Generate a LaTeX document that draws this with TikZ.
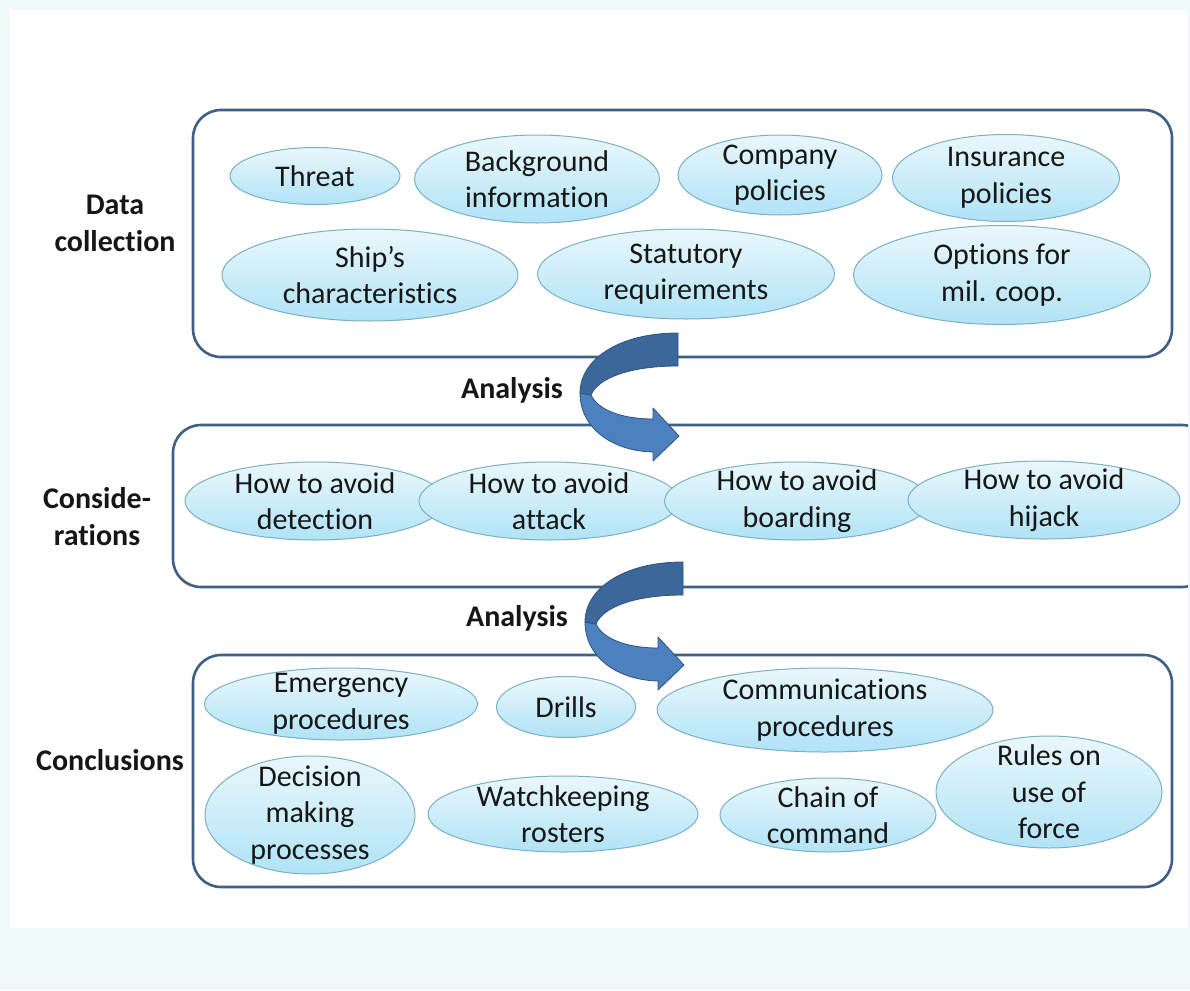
\documentclass[tikz,border=0pt]{standalone}
\usepackage{fontspec}
\setmainfont{Carlito}[Ligatures={NoCommon}]
\usetikzlibrary{shapes.geometric}
\definecolor{bgc}{HTML}{EEF9FA}
\definecolor{boxc}{HTML}{3F5F85}
\definecolor{ellc}{HTML}{7AAFC4}
\definecolor{etop}{HTML}{EAF7FC}
\definecolor{ebot}{HTML}{B0E3F6}
\definecolor{txt}{HTML}{161616}
\definecolor{arrdark}{HTML}{3B679B}
\definecolor{arrlight}{HTML}{4C80BE}
\definecolor{arrline}{HTML}{2E5380}
\begin{document}
\begin{tikzpicture}[x=1pt,y=-1pt,
  groupbox/.style={draw=boxc, line width=2.6pt, rounded corners=28pt},
  ell/.style={ellipse, draw=ellc, line width=1pt, top color=etop, bottom color=ebot, inner sep=0pt},
  etxt/.style={align=center, text=txt, inner sep=0pt, font=\fontsize{30}{36.5}\selectfont},
  side/.style={align=center, text=txt, inner sep=0pt, font=\fontsize{30}{37}\selectfont\bfseries},
  upper/.style={fill=arrdark, draw=arrline, line width=0.8pt, line join=round},
  lower/.style={fill=arrlight, draw=arrline, line width=0.8pt, line join=round}]
\useasboundingbox (0,0) rectangle (1190,990);
\fill[bgc] (0,0) rectangle (1190,990);
\fill[white] (10,10) rectangle (1188,928);

% group boxes
\draw[groupbox] (193,110) rectangle (1172,357);
\begin{scope}
  \clip (10,10) rectangle (1188,928);
  \draw[groupbox] (173,425) rectangle (1210,587);
\end{scope}
\draw[groupbox] (193,655) rectangle (1172,887);

% side labels
\node[side] (ldata) at (115,223) {Data\\collection};
\node[side] (lcons) at (97,517) {Conside-\\rations};
\node[side] (lconc) at (110,760) {Conclusions};
\node[side] (lan1) at (512,390) {Analysis};
\node[side] (lan2) at (517,618) {Analysis};

% data collection
\node[ell, minimum width=170, minimum height=57, label={[etxt]center:Threat}] (threat) at (315,176) {};
\node[ell, minimum width=245, minimum height=88, label={[etxt]center:Background\\information}] (backg) at (537,179) {};
\node[ell, minimum width=204, minimum height=80, label={[etxt]center:Company\\policies}] (comp) at (780,175) {};
\node[ell, minimum width=227, minimum height=87, label={[etxt]center:Insurance\\policies}] (insur) at (1006,178) {};
\node[ell, minimum width=296, minimum height=92, label={[etxt]center:Ship’s\\characteristics}] (ship) at (370,275) {};
\node[ell, minimum width=297, minimum height=90, label={[etxt]center:Statutory\\requirements}] (stat) at (686,274) {};
\node[ell, minimum width=297, minimum height=99, label={[etxt]center:Options for\\mil. coop.}] (opts) at (1002,275) {};

% considerations
\node[ell, minimum width=260, minimum height=78, label={[etxt]center:How to avoid\\detection}] (detect) at (315,501) {};
\node[ell, minimum width=260, minimum height=78, label={[etxt]center:How to avoid\\attack}] (attack) at (549,501) {};
\node[ell, minimum width=265, minimum height=78, label={[etxt]center:How to avoid\\boarding}] (board) at (797,501) {};
\node[ell, minimum width=272, minimum height=78, label={[etxt]center:How to avoid\\hijack}] (hijack) at (1044,500) {};

% conclusions
\node[ell, minimum width=273, minimum height=72, label={[etxt]center:Emergency\\procedures}] (emerg) at (341,704) {};
\node[ell, minimum width=139, minimum height=61, label={[etxt]center:Drills}] (drills) at (566,707) {};
\node[ell, minimum width=336, minimum height=84, label={[etxt]center:Communications\\procedures}] (commun) at (825,710) {};
\node[ell, minimum width=226, minimum height=112, label={[etxt]center:Rules on\\use of\\force}] (rules) at (1049,792) {};
\node[ell, minimum width=210, minimum height=118, label={[etxt]center:Decision\\making\\processes}] (decis) at (310,815) {};
\node[ell, minimum width=270, minimum height=76, label={[etxt]center:Watchkeeping\\rosters}] (watch) at (563,814) {};
\node[ell, minimum width=216, minimum height=74, label={[etxt]center:Chain of\\command}] (chain) at (828,815) {};

% curved arrows
\foreach \dx/\dy in {0/0, 5/229} {
\begin{scope}[shift={(\dx,\dy)}]
  \path[lower] (580,393) .. controls (580,428) and (612,451) .. (653,452)
    -- (653,461) -- (679,436) -- (653,408) -- (653,419)
    .. controls (622,419) and (598,410) .. (591,395) -- cycle;
  \path[upper] (678,333) .. controls (618,333) and (580,360) .. (580,393)
    -- (591,395) .. controls (598,378) and (630,366) .. (678,366) -- cycle;
\end{scope}
}
\end{tikzpicture}
\end{document}
